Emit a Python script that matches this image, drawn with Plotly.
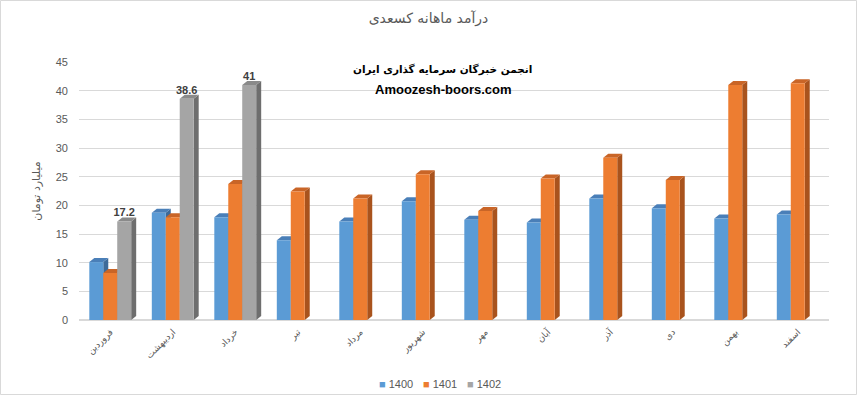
import plotly.graph_objects as go

months = ["فروردین", "اردیبهشت", "خرداد", "تیر", "مرداد", "شهریور",
          "مهر", "آبان", "آذر", "دی", "بهمن", "اسفند"]
s1400 = [10.1, 18.7, 17.9, 13.9, 17.2, 20.7, 17.5, 17.0, 21.2, 19.5, 17.7, 18.4]
s1401 = [8.2, 17.9, 23.7, 22.4, 21.2, 25.4, 19.0, 24.7, 28.3, 24.4, 41.0, 41.3]
s1402 = [17.2, 38.6, 41.0, None, None, None, None, None, None, None, None, None]
labels1402 = ["17.2", "38.6", "41", "", "", "", "", "", "", "", "", ""]

series = [("1400", s1400, "#5b9bd5", "#4a7fb8", "#3d6a99"),
          ("1401", s1401, "#ed7d31", "#c96527", "#a9531d"),
          ("1402", s1402, "#a5a5a5", "#8a8a8a", "#6e6e6e")]

W, H = 857, 395
ml, mr, mt, mb = 79, 28, 62, 75
pw = W - ml - mr
ph = H - mt - mb
YMAX = 45
BARGAP = 0.33
bw = (1 - BARGAP) / 3
dx = 5 / (pw / len(months))      # depth offset in category units
dy = 4 / (ph / YMAX)             # depth offset in value units

fig = go.Figure()
shapes = []
for j, (name, vals, front, top, side) in enumerate(series):
    kw = {}
    if name == "1402":
        kw = dict(text=labels1402, textposition="outside", cliponaxis=False,
                  constraintext="none",
                  textfont=dict(family="Liberation Sans", size=11, color="#404040",
                                weight="bold"))
    fig.add_trace(go.Bar(name=name, x=months, y=vals, showlegend=False,
                         marker=dict(color=front, line=dict(width=0)), **kw))
    for i, v in enumerate(vals):
        if v is None:
            continue
        c = i + (j - 1) * bw
        x0, x1 = c - bw / 2, c + bw / 2
        shapes.append(dict(type="path", xref="x", yref="y", layer="between",
                           path=f"M{x1},{0} L{x1 + dx},{dy} L{x1 + dx},{v + dy} L{x1},{v} Z",
                           fillcolor=side, line=dict(width=0)))
        shapes.append(dict(type="path", xref="x", yref="y", layer="between",
                           path=f"M{x0},{v} L{x1},{v} L{x1 + dx},{v + dy} L{x0 + dx},{v + dy} Z",
                           fillcolor=top, line=dict(width=0)))

shapes.append(dict(type="rect", xref="paper", yref="paper",
                   x0=(0.5 - ml) / pw, x1=(W - 0.5 - ml) / pw,
                   y0=(0.5 - mb) / ph, y1=(H - 0.5 - mb) / ph,
                   line=dict(color="#d9d9d9", width=1), layer="below"))

# manual legend (compact, like the original)
legend_x = [377, 421, 465]
annotations = []
for (name, vals, front, top, side), lx in zip(series, legend_x):
    annotations.append(dict(
        text=f"<span style='color:{front}'>■</span> {name}",
        xref="paper", yref="paper", x=(lx - ml) / pw, y=(H - mb - 384) / ph,
        xanchor="left", yanchor="middle", showarrow=False,
        font=dict(family="Liberation Sans", size=11, color="#595959")))

annotations += [
    dict(text="<b>انجمن خبرگان سرمایه گذاری ایران</b>", xref="paper", yref="paper",
         x=(442 - ml) / pw, y=(H - mb - 61) / ph, showarrow=False,
         font=dict(family="DejaVu Sans", size=10.5, color="#000000")),
    dict(text="<b>Amoozesh-boors.com</b>", xref="paper", yref="paper",
         x=(443 - ml) / pw, y=(H - mb - 80) / ph, showarrow=False,
         font=dict(family="Liberation Sans", size=13, color="#000000")),
]

fig.update_layout(
    width=W, height=H,
    margin=dict(l=ml, r=mr, t=mt, b=mb, autoexpand=False),
    paper_bgcolor="white", plot_bgcolor="white",
    barmode="group", bargap=BARGAP, bargroupgap=0.0,
    showlegend=False,
    font=dict(family="Liberation Sans", color="#595959"),
    title=dict(text="درآمد ماهانه کسعدی", x=0.5, xanchor="center", y=0.955, yanchor="middle",
               font=dict(family="DejaVu Sans", size=14, color="#595959")),
    xaxis=dict(tickangle=-45, tickfont=dict(family="DejaVu Sans", size=9, color="#595959"),
               showline=False, showgrid=False, ticks="", ticklabelstandoff=4,
               range=[-0.5, len(months) - 0.5]),
    yaxis=dict(range=[0, YMAX], dtick=5, showgrid=True, gridcolor="#d9d9d9", gridwidth=1,
               zeroline=True, zerolinecolor="#d9d9d9", showline=False,
               tickfont=dict(size=11, color="#595959"), ticklabelstandoff=10,
               title=dict(text="میلیارد تومان", standoff=12,
                          font=dict(family="DejaVu Sans", size=11, color="#595959"))),
    annotations=annotations,
    shapes=shapes,
)

fig.write_html("out.html")
